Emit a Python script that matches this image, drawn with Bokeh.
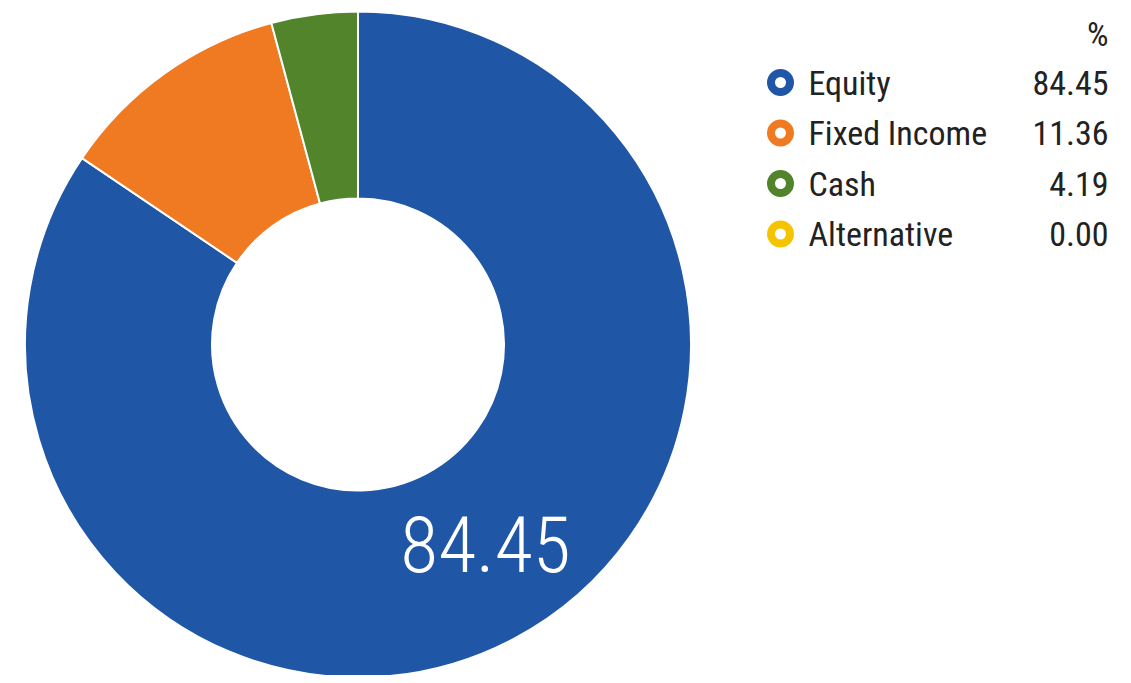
import math
from bokeh.plotting import figure
from bokeh.models import ColumnDataSource
from bokeh.core.properties import value
from bokeh.embed import file_html
from bokeh.resources import INLINE

categories = ["Equity", "Fixed Income", "Cash", "Alternative"]
values = [84.45, 11.36, 4.19, 0.00]
colors = ["#1f56a5", "#f07a22", "#52852b", "#f5c400"]
value_labels = ["84.45", "11.36", "4.19", "0.00"]

W, H = 1115, 675
FONT = "'Roboto Condensed', 'DejaVu Sans Condensed', 'Liberation Sans Narrow', Roboto, sans-serif"
LIGHT = "'Roboto Condensed Light', 'Roboto Condensed', 'DejaVu Sans Condensed', sans-serif"

p = figure(width=W, height=H, x_range=(0, W), y_range=(0, H),
           output_backend="svg", toolbar_location=None, min_border=0)
p.axis.visible = False
p.grid.visible = False
p.outline_line_color = None
p.background_fill_color = "white"

cx, cy = 357.5, H - 344
r_out, r_in = 333, 146

total = sum(values)
starts, ends, cols, cats = [], [], [], []
acc = 0.0
for v, c, k in zip(values, colors, categories):
    a0 = math.pi / 2 - 2 * math.pi * acc / total
    acc += v
    a1 = math.pi / 2 - 2 * math.pi * acc / total
    if v > 0:
        starts.append(a1)
        ends.append(a0)
        cols.append(c)
        cats.append(k)

src = ColumnDataSource(dict(start=starts, end=ends, color=cols, cat=cats))
p.annular_wedge(x=cx, y=cy, inner_radius=r_in, outer_radius=r_out,
                start_angle="start", end_angle="end", fill_color="color",
                line_color="white", line_width=2, source=src)

# label on largest slice
frac_mid = (values[0] / 2) / total
ang = math.pi / 2 - 2 * math.pi * frac_mid
rm = (r_out + r_in) / 2
p.text(x=[cx + rm * math.cos(ang) + 15], y=[cy + rm * math.sin(ang) + 12], text=[value_labels[0]],
       text_color="white", text_font=value(LIGHT), text_font_size="78px",
       text_align="center", text_baseline="middle")

# legend
row_y = [H - 82 - 50.5 * i for i in range(len(categories))]
p.scatter(x=[780] * len(categories), y=row_y, size=19, marker="circle",
          fill_color="white", line_color=colors, line_width=8)
p.text(x=[808] * len(categories), y=row_y, text=categories, text_color="#222222",
       text_font=value(FONT), text_font_size="34px", text_baseline="middle")
p.text(x=[1108] * len(categories), y=row_y, text=value_labels, text_color="#222222",
       text_font=value(FONT), text_font_size="34px", text_baseline="middle", text_align="right")
p.text(x=[1108], y=[H - 33], text=["%"], text_color="#222222",
       text_font=value(FONT), text_font_size="34px", text_baseline="middle", text_align="right")

open("out.html", "w").write(file_html(p, INLINE))
